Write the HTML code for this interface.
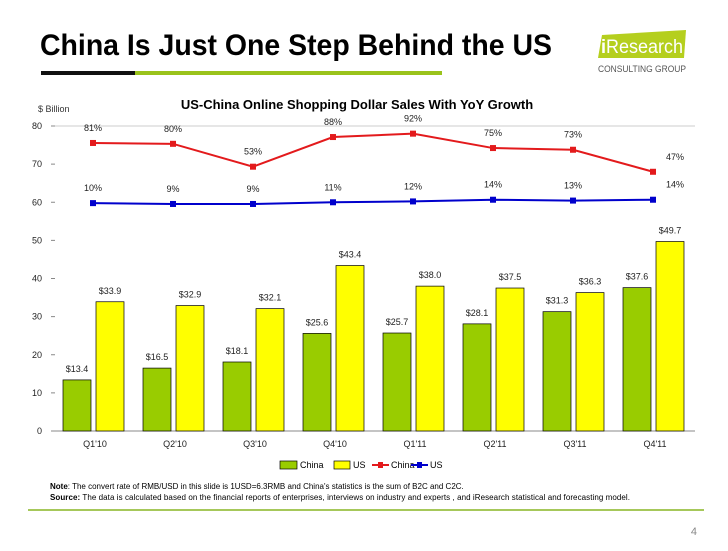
<!DOCTYPE html>
<html><head><meta charset="utf-8">
<style>
body{margin:0;width:728px;height:546px;background:#fff;overflow:hidden;font-family:"Liberation Sans",sans-serif;}
svg text{font-family:"Liberation Sans",sans-serif;}
</style></head>
<body>
<svg width="728" height="546" viewBox="0 0 728 546">
  <text x="40" y="55" font-size="30" font-weight="bold" fill="#000" textLength="512" lengthAdjust="spacingAndGlyphs">China Is Just One Step Behind the US</text>
  <rect x="41" y="71" width="94" height="4" fill="#111"/>
  <rect x="135" y="71" width="307" height="4" fill="#9ac31c"/>
  <g>
    <polygon points="602,35 686,30 684,58 598,58" fill="#b5cf1e"/>
    <text x="601" y="53" font-size="19" fill="#fff" textLength="82" lengthAdjust="spacingAndGlyphs"><tspan font-weight="bold">i</tspan>Research</text>
    <text x="598" y="72" font-size="9.5" fill="#555" textLength="88" lengthAdjust="spacingAndGlyphs">CONSULTING GROUP</text>
  </g>
  <text x="357" y="109" font-size="13" font-weight="bold" text-anchor="middle">US-China Online Shopping Dollar Sales With YoY Growth</text>
  <text x="38" y="112" font-size="9" fill="#333">$ Billion</text>
  <g id="chart"></g>
  <g>
    <g><rect x="280" y="461" width="17" height="8" fill="#99cc00" stroke="#000" stroke-width="0.7"/><text x="300" y="468" font-size="9">China</text></g>
    <g><rect x="334" y="461" width="16" height="8" fill="#ffff00" stroke="#000" stroke-width="0.7"/><text x="353" y="468" font-size="9">US</text></g>
    <g><line x1="372" y1="465" x2="389" y2="465" stroke="#e31a1c" stroke-width="2"/><rect x="378" y="462" width="5" height="6" fill="#e31a1c"/><text x="391" y="468" font-size="9">China</text></g>
    <g><line x1="411" y1="465" x2="428" y2="465" stroke="#0000cc" stroke-width="2"/><rect x="417" y="462" width="5" height="6" fill="#0000cc"/><text x="430" y="468" font-size="9">US</text></g>
  </g>
  <text x="50" y="489" font-size="8"><tspan font-weight="bold">Note</tspan>: The convert rate of RMB/USD in this slide is 1USD=6.3RMB and China's statistics is the sum of B2C and C2C.</text>
  <text x="50" y="500" font-size="8" textLength="580"><tspan font-weight="bold">Source:</tspan> The data is calculated based on the financial reports of enterprises, interviews on industry and experts , and  iResearch statistical and forecasting model.</text>
  <rect x="28" y="509" width="676" height="2" fill="#a6c85a"/>
  <text x="697" y="535" font-size="11" fill="#888" text-anchor="end">4</text>
</svg>
<script>
const categories=["Q1'10","Q2'10","Q3'10","Q4'10","Q1'11","Q2'11","Q3'11","Q4'11"];
const chinaSales=[13.4,16.5,18.1,25.6,25.7,28.1,31.3,37.6];
const usSales=[33.9,32.9,32.1,43.4,38.0,37.5,36.3,49.7];
const chinaGrowth=[81,80,53,88,92,75,73,47];
const usGrowth=[10,9,9,11,12,14,13,14];
const yTicks=[0,10,20,30,40,50,60,70,80];
const NS="http://www.w3.org/2000/svg";
const g=document.getElementById('chart');
const X0=55,X1=695,Y0=431,Y80=126;
const y=v=>Y0-(v/80)*(Y0-Y80);
const y2=p=>y(57.55+0.2222*p);
const step=(X1-X0)/categories.length;
const cx=i=>X0+step/2+step*i;
function el(t,a){const e=document.createElementNS(NS,t);for(const k in a)e.setAttribute(k,a[k]);g.appendChild(e);return e;}
function txt(x,yy,s,size,anchor){const e=el('text',{x:x,y:yy,'font-size':size,'text-anchor':anchor||'middle',fill:'#222'});e.textContent=s;return e;}
let ln=el('line',{x1:X0,y1:y(80),x2:X1,y2:y(80),stroke:'#ccc','stroke-width':1});


ln=el('line',{x1:X0,y1:Y0,x2:X1,y2:Y0,stroke:'#888','stroke-width':1});


yTicks.forEach(t=>{
  const tl=txt(42,y(t)+3,String(t),9,'end');
  
  
  const tk=el('line',{x1:51,y1:y(t),x2:X0,y2:y(t),stroke:'#888'});
  
  
});
categories.forEach((c,i)=>{
  const xl=txt(cx(i),447,c,9);
  
  
  const b1=el('rect',{x:cx(i)-32,y:y(chinaSales[i]),width:28,height:Y0-y(chinaSales[i]),fill:'#99cc00',stroke:'#000','stroke-width':0.7});
  
  
  const b2=el('rect',{x:cx(i)+1,y:y(usSales[i]),width:28,height:Y0-y(usSales[i]),fill:'#ffff00',stroke:'#000','stroke-width':0.7});
  
  
  const l1=txt(cx(i)-18,y(chinaSales[i])-8,'$'+chinaSales[i].toFixed(1),9);
  
  
  const l2=txt(cx(i)+15,y(usSales[i])-8,'$'+usSales[i].toFixed(1),9);
  
  
});
function series(vals,color,name){
  const pts=vals.map((v,i)=>(cx(i)-2)+','+y2(v)).join(' ');
  const pl=el('polyline',{points:pts,fill:'none',stroke:color,'stroke-width':2});
  
  
  vals.forEach((v,i)=>{
    const m=el('rect',{x:cx(i)-5,y:y2(v)-3,width:6,height:6,fill:color});
    
    
    const dx=i===vals.length-1?22:0;
    const t=txt(cx(i)-2+dx,y2(v)-12,v+'%',9);
    
    
  });
}
series(chinaGrowth,'#e31a1c','china-growth');
series(usGrowth,'#0000cc','us-growth');
</script>
</body></html>
